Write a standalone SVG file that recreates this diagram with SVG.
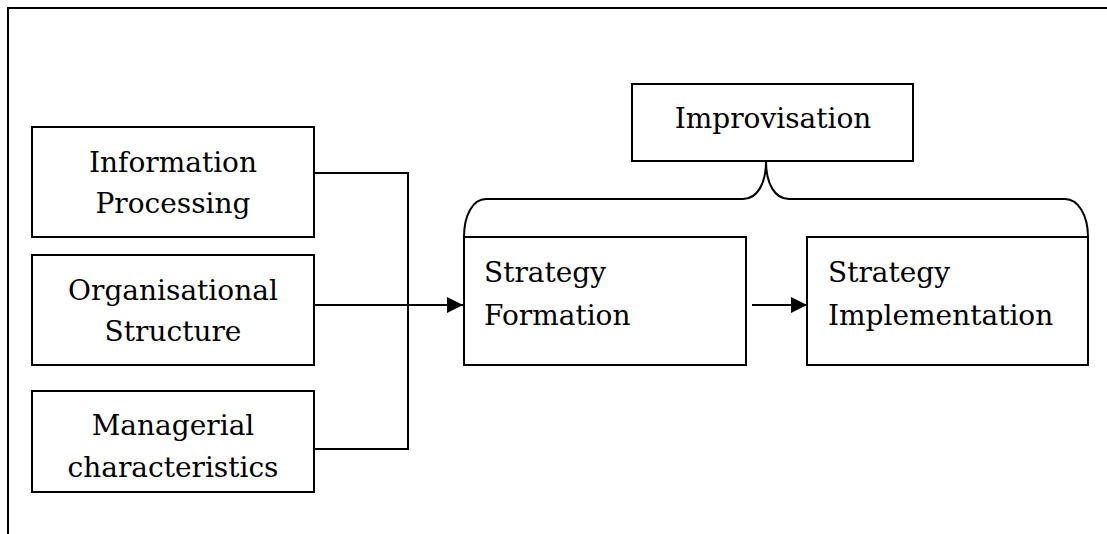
<svg xmlns="http://www.w3.org/2000/svg" width="1107" height="534" viewBox="0 0 1107 534">
  <style>
    .box { fill: #ffffff; stroke: #000000; stroke-width: 2; }
    .line { fill: none; stroke: #000000; stroke-width: 2; }
    .lbl { font-family: "DejaVu Serif", "Liberation Serif", serif; font-size: 28px; fill: #000000; }
    .mid { text-anchor: middle; }
  </style>
  <defs>
    <marker id="arrow" viewBox="0 0 16 16" refX="16" refY="8" markerWidth="16" markerHeight="16" markerUnits="userSpaceOnUse" orient="auto">
      <path d="M0,0 L16,8 L0,16 Z" fill="#000000"/>
    </marker>
  </defs>
  <rect width="1107" height="534" fill="#ffffff"/>

  <!-- outer frame (top and left edges) -->
  <path class="line" d="M8,534 L8,8 L1107,8"/>

  <!-- connectors -->
  <g id="connectors">
    <path class="line" d="M314,173 L408,173 L408,449 L314,449"/>
    <path class="line" d="M314,305 L463,305" marker-end="url(#arrow)"/>
    <path class="line" d="M752,305 L807,305" marker-end="url(#arrow)"/>
    <!-- brace spanning the two strategy stages -->
    <path class="line" d="M464,237 C464,215 473,199 486,199 L743,199 C757,199 766,184 766,161 C766,184 775,199 789,199 L1065,199 C1078,199 1088,215 1088,237"/>
  </g>

  <g id="info-processing">
    <rect class="box" x="32" y="127" width="282" height="110"/>
    <text class="lbl mid" x="173" y="172">Information</text>
    <text class="lbl mid" x="173" y="213">Processing</text>
  </g>

  <g id="org-structure">
    <rect class="box" x="32" y="255" width="282" height="110"/>
    <text class="lbl mid" x="173" y="300">Organisational</text>
    <text class="lbl mid" x="173" y="341">Structure</text>
  </g>

  <g id="managerial">
    <rect class="box" x="32" y="391" width="282" height="101"/>
    <text class="lbl mid" x="173" y="435">Managerial</text>
    <text class="lbl mid" x="173" y="477">characteristics</text>
  </g>

  <g id="improvisation">
    <rect class="box" x="632" y="84" width="281" height="77"/>
    <text class="lbl mid" x="773" y="128">Improvisation</text>
  </g>

  <g id="strategy-formation">
    <rect class="box" x="464" y="237" width="282" height="128"/>
    <text class="lbl" x="484" y="282">Strategy</text>
    <text class="lbl" x="484" y="325">Formation</text>
  </g>

  <g id="strategy-implementation">
    <rect class="box" x="807" y="237" width="281" height="128"/>
    <text class="lbl" x="828" y="282">Strategy</text>
    <text class="lbl" x="828" y="325">Implementation</text>
  </g>
</svg>
